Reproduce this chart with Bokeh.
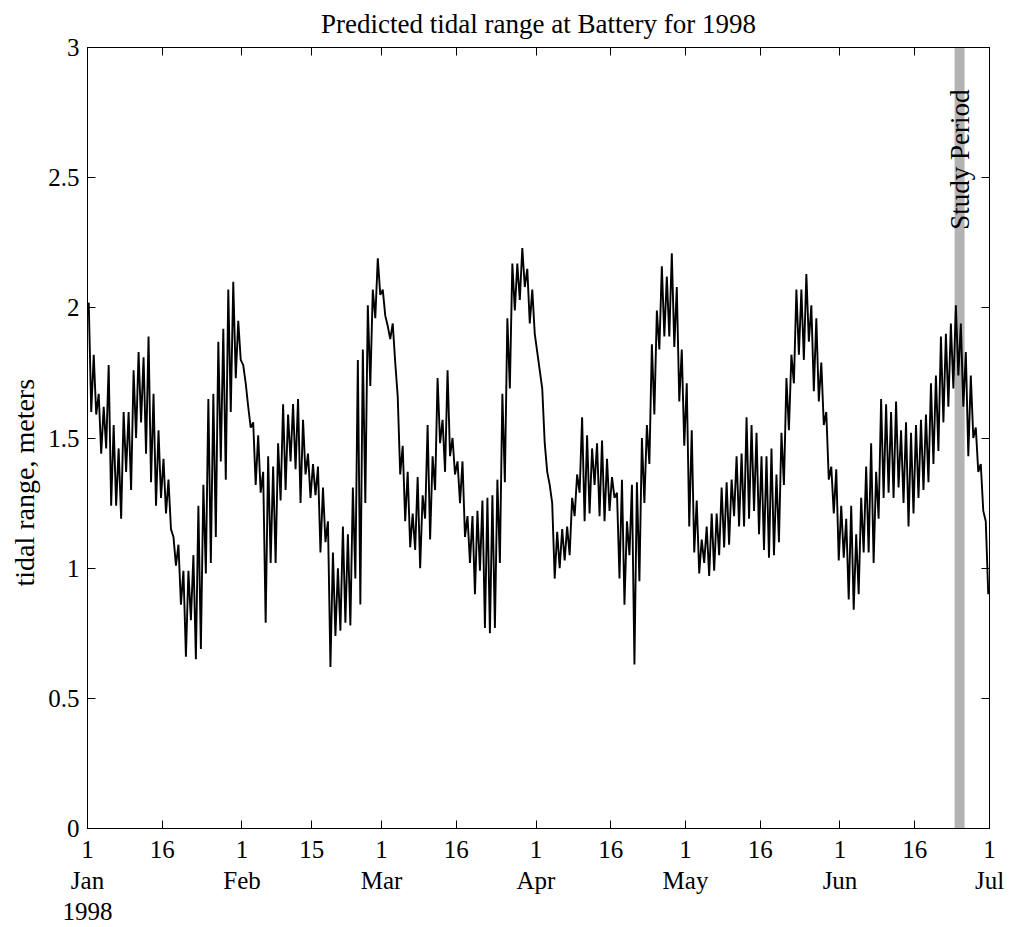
import numpy as np
import pandas as pd
from bokeh.plotting import figure
from bokeh.models import FixedTicker, LinearAxis, Range1d, ColumnDataSource, Label, Title
from bokeh.embed import file_html
from bokeh.resources import INLINE

# Predicted tidal range at the Battery, Jan 1 - Jul 1 1998.
# Two readings per day: the larger and the smaller range of the day (metres).
range_hi = [
    2.02, 1.82, 1.67, 1.62, 1.78, 1.55, 1.46, 1.60, 1.60, 1.76,
    1.83, 1.81, 1.89, 1.67, 1.53, 1.42, 1.34, 1.12, 1.09, 0.99,
    0.99, 1.05, 1.24, 1.32, 1.65, 1.67, 1.87, 1.92, 2.07, 2.10,
    1.95, 1.78, 1.62, 1.56, 1.51, 1.37, 1.43, 1.39, 1.48, 1.63,
    1.59, 1.63, 1.65, 1.57, 1.44, 1.40, 1.39, 1.31, 1.18, 1.06,
    1.00, 1.16, 1.13, 1.31, 1.80, 1.84, 2.01, 2.07, 2.19, 2.07,
    1.93, 1.94, 1.66, 1.47, 1.37, 1.21, 1.35, 1.28, 1.55, 1.43,
    1.73, 1.57, 1.76, 1.50, 1.41, 1.41, 1.20, 1.20, 1.22, 1.26,
    1.27, 1.28, 1.34, 1.67, 1.96, 2.17, 2.17, 2.23, 2.15, 2.07,
    1.83, 1.69, 1.37, 1.25, 1.14, 1.15, 1.16, 1.27, 1.36, 1.58,
    1.51, 1.46, 1.48, 1.49, 1.42, 1.35, 1.29, 1.34, 1.18, 1.32,
    1.33, 1.50, 1.55, 1.86, 1.99, 2.16, 2.12, 2.21, 2.08, 1.84,
    1.71, 1.53, 1.26, 1.11, 1.16, 1.21, 1.21, 1.31, 1.33, 1.34,
    1.43, 1.44, 1.58, 1.55, 1.52, 1.43, 1.43, 1.46, 1.36, 1.52,
    1.73, 1.82, 2.07, 2.07, 2.13, 2.01, 1.96, 1.79, 1.60, 1.39,
    1.38, 1.24, 1.19, 1.24, 1.13, 1.27, 1.39, 1.48, 1.37, 1.65,
    1.63, 1.60, 1.64, 1.53, 1.56, 1.52, 1.55, 1.57, 1.59, 1.71,
    1.74, 1.89, 1.90, 1.94, 2.01, 1.94, 1.83, 1.74, 1.54, 1.40,
    1.18,
]
range_lo = [
    1.60, 1.59, 1.44, 1.46, 1.24, 1.24, 1.19, 1.37, 1.30, 1.50,
    1.56, 1.44, 1.33, 1.24, 1.27, 1.21, 1.15, 1.01, 0.86, 0.66,
    0.80, 0.65, 0.69, 0.98, 1.02, 1.12, 1.41, 1.34, 1.60, 1.73,
    1.80, 1.71, 1.54, 1.32, 1.29, 0.79, 1.02, 1.02, 1.26, 1.30,
    1.41, 1.38, 1.25, 1.36, 1.27, 1.28, 1.06, 1.10, 0.62, 0.74,
    0.76, 0.79, 0.78, 0.96, 0.86, 1.25, 1.70, 1.96, 2.05, 1.97,
    1.88, 1.79, 1.36, 1.18, 1.08, 1.07, 1.00, 1.19, 1.11, 1.30,
    1.48, 1.37, 1.43, 1.36, 1.25, 1.12, 1.02, 0.90, 0.99, 0.77,
    0.75, 0.77, 1.02, 1.33, 1.69, 1.99, 2.03, 2.08, 1.94, 1.90,
    1.76, 1.48, 1.32, 0.96, 1.00, 1.03, 1.05, 1.20, 1.29, 1.18,
    1.21, 1.32, 1.20, 1.18, 1.22, 1.27, 0.96, 0.86, 1.05, 0.63,
    0.95, 1.25, 1.40, 1.59, 1.84, 1.89, 1.89, 1.85, 1.64, 1.47,
    1.16, 1.06, 0.98, 1.02, 0.97, 0.99, 1.05, 1.08, 1.09, 1.20,
    1.16, 1.16, 1.19, 1.22, 1.13, 1.07, 1.04, 1.05, 1.10, 1.32,
    1.53, 1.71, 1.82, 1.80, 1.87, 1.68, 1.64, 1.55, 1.34, 1.21,
    1.03, 1.04, 0.88, 0.84, 0.90, 1.06, 1.06, 1.02, 1.19, 1.27,
    1.29, 1.27, 1.31, 1.25, 1.16, 1.21, 1.27, 1.30, 1.33, 1.40,
    1.45, 1.56, 1.62, 1.69, 1.74, 1.62, 1.43, 1.50, 1.37, 1.22,
    0.90,
]

year_start = "1998-01-01"
x_end_date = "1998-07-01"
study_start = ["1998-06-24"]
study_end = ["1998-06-26"]

tick_dates = [
    "1998-01-01", "1998-01-16", "1998-02-01", "1998-02-15", "1998-03-01",
    "1998-03-16", "1998-04-01", "1998-04-16", "1998-05-01", "1998-05-16",
    "1998-06-01", "1998-06-16", "1998-07-01",
]
tick_labels = [
    "1\nJan\n1998", "16", "1\nFeb", "15", "1\nMar", "16", "1\nApr",
    "16", "1\nMay", "16", "1\nJun", "16", "1\nJul",
]
y_ticks = [0, 0.5, 1, 1.5, 2, 2.5, 3]
y_tick_labels = ["0", "0.5", "1", "1.5", "2", "2.5", "3"]

t0 = pd.Timestamp(year_start)


def day_of(d):
    return (pd.Timestamp(d) - t0) / pd.Timedelta(days=1)


# interleave the two daily readings into one time series
n = len(range_hi)
day_idx = np.arange(n, dtype=float)
xs = np.empty(2 * n)
ys = np.empty(2 * n)
xs[0::2] = day_idx + 0.25
xs[1::2] = day_idx + 0.75
ys[0::2] = range_hi
ys[1::2] = range_lo
series = ColumnDataSource(dict(x=xs, y=ys))

study = ColumnDataSource(dict(
    left=[day_of(d) for d in study_start],
    right=[day_of(d) for d in study_end],
    bottom=[0], top=[3],
))

SERIF = "Liberation Serif"

p = figure(
    width=1009, height=927,
    x_range=Range1d(0, day_of(x_end_date)), y_range=Range1d(0, 3),
    output_backend="svg", toolbar_location=None,
    min_border_left=87, min_border_right=20,
    min_border_top=47, min_border_bottom=97,
)
p.background_fill_color = "white"
p.border_fill_color = "white"
p.outline_line_color = "black"
p.outline_line_width = 1
p.xgrid.visible = False
p.ygrid.visible = False

p.title.text = "Predicted tidal range at Battery for 1998"
p.title.align = "center"
p.title.vertical_align = "top"
p.title.text_font = SERIF
p.title.text_font_style = "normal"
p.title.text_font_size = "27px"
p.title.text_line_height = 0.8
p.title.text_color = "black"
p.title.standoff = 14

xticks = [day_of(d) for d in tick_dates]
xt = FixedTicker(ticks=xticks, minor_ticks=[])
yt = FixedTicker(ticks=y_ticks, minor_ticks=[])


def style_axis(ax, ticker, overrides, show_labels):
    ax.ticker = ticker
    ax.major_label_overrides = overrides
    ax.major_tick_in = 8
    ax.major_tick_out = 0
    ax.minor_tick_in = 0
    ax.minor_tick_out = 0
    ax.axis_line_color = "black"
    ax.major_tick_line_color = "black"
    ax.major_label_text_font = SERIF
    ax.major_label_text_font_size = "25px"
    ax.major_label_text_line_height = 1.15
    ax.major_label_text_color = "black"
    ax.major_label_standoff = 8
    if not show_labels:
        ax.major_label_text_alpha = 0
        ax.major_label_text_font_size = "1px"
        ax.major_label_standoff = 0


xover = {float(k): v for k, v in zip(xticks, tick_labels)}
yover = {float(k): v for k, v in zip(y_ticks, y_tick_labels)}

style_axis(p.xaxis[0], xt, xover, True)
style_axis(p.yaxis[0], yt, yover, True)
p.xaxis[0].major_label_standoff = 7

top_ax = LinearAxis()
style_axis(top_ax, xt, {}, False)
p.add_layout(top_ax, "above")
right_ax = LinearAxis()
style_axis(right_ax, yt, {}, False)
p.add_layout(right_ax, "right")

# y-axis caption, outside the tick labels, starting a little below centre
p.add_layout(Title(
    text="tidal range, meters", align="left", offset=242, standoff=12,
    text_font=SERIF, text_font_style="normal", text_font_size="28px",
    text_color="black",
), "left")

# study period band, under the tidal curve
p.quad(left="left", right="right", bottom="bottom", top="top", source=study,
       fill_color="#b3b3b3", line_color=None)

p.line("x", "y", source=series, line_color="black", line_width=1.9)

p.add_layout(Label(
    x=(day_of(study_start[0]) + day_of(study_end[0])) / 2, y=2.30,
    text="Study Period", angle=np.pi / 2, text_align="left",
    text_baseline="middle", text_font=SERIF, text_font_size="27px",
    text_color="black",
))

open("out.html", "w").write(file_html(p, INLINE))
